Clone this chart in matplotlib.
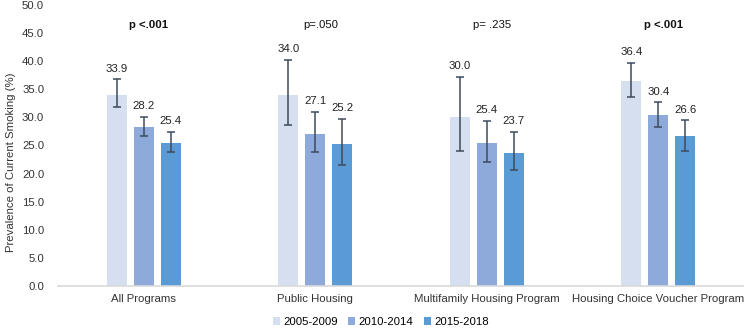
import numpy as np
import matplotlib.pyplot as plt

plt.rcParams["font.family"] = ["Liberation Sans", "DejaVu Sans"]

programs = ["All Programs", "Public Housing", "Multifamily Housing Program",
            "Housing Choice Voucher Program"]
periods = ["2005-2009", "2010-2014", "2015-2018"]

prev = [
    [33.9, 34.0, 30.0, 36.4],   # 2005-2009
    [28.2, 27.1, 25.4, 30.4],   # 2010-2014
    [25.4, 25.2, 23.7, 26.6],   # 2015-2018
]
ci_low = [
    [31.8, 28.6, 24.0, 33.6],
    [26.7, 23.8, 22.1, 28.3],
    [23.8, 21.5, 20.6, 24.0],
]
ci_high = [
    [36.8, 40.2, 37.2, 39.7],
    [30.1, 31.0, 29.4, 32.7],
    [27.4, 29.7, 27.4, 29.5],
]
pvals = ["p <.001", "p=.050", "p= .235", "p <.001"]
p_bold = [True, False, False, True]

colors = ["#d6dff0", "#8eaadb", "#5b9bd5"]
err_col = "#3d4a5c"
fs = 8.2

fig = plt.figure(figsize=(7.44, 3.29), dpi=100)
ax = fig.add_axes([0.078, 0.131, 0.922, 0.854])

x = np.arange(len(programs))
w = 0.117
step = 0.157
for i in range(3):
    xs = x + (i - 1) * step
    vals = np.array(prev[i])
    lo = vals - np.array(ci_low[i])
    hi = np.array(ci_high[i]) - vals
    ax.bar(xs, vals, w, color=colors[i], label=periods[i], zorder=2)
    ax.errorbar(xs, vals, yerr=[lo, hi], fmt="none", ecolor=err_col,
                elinewidth=1.1, capsize=3, capthick=1.1, zorder=3)
    for xx, v, top in zip(xs, vals, ci_high[i]):
        ax.annotate(f"{v:.1f}", (xx, top), xytext=(0, 4), textcoords="offset points",
                    ha="center", va="bottom", fontsize=fs, color="#222222")

for xx, p, b in zip(x, pvals, p_bold):
    ax.text(xx + 0.03, 46.4, p, ha="center", va="center", fontsize=fs,
            fontweight="bold" if b else "normal", color="#111111")

ax.set_xlim(-0.5, 3.5)
ax.set_ylim(0, 50)
ax.set_yticks(np.arange(0, 50.1, 5))
ax.set_yticklabels([f"{t:.1f}" for t in np.arange(0, 50.1, 5)])
ax.set_xticks(x)
ax.set_xticklabels(programs)
ax.tick_params(axis="both", length=0, labelsize=fs, colors="#333333")
ax.tick_params(axis="x", pad=6)
ax.tick_params(axis="y", pad=10)
for s in ["left", "right", "top"]:
    ax.spines[s].set_visible(False)
ax.spines["bottom"].set_color("#d9d9d9")
ax.spines["bottom"].set_linewidth(1.2)
ax.set_ylabel("Prevalence of Current Smoking (%)", fontsize=fs, color="#333333")
ax.yaxis.set_label_coords(-0.062, 0.44)

fig.legend(loc="lower center", bbox_to_anchor=(0.512, -0.025), ncol=3, frameon=False,
           fontsize=fs, handlelength=0.6, handleheight=0.6, handletextpad=0.3,
           columnspacing=0.9)

fig.savefig("out.png", dpi=100)
